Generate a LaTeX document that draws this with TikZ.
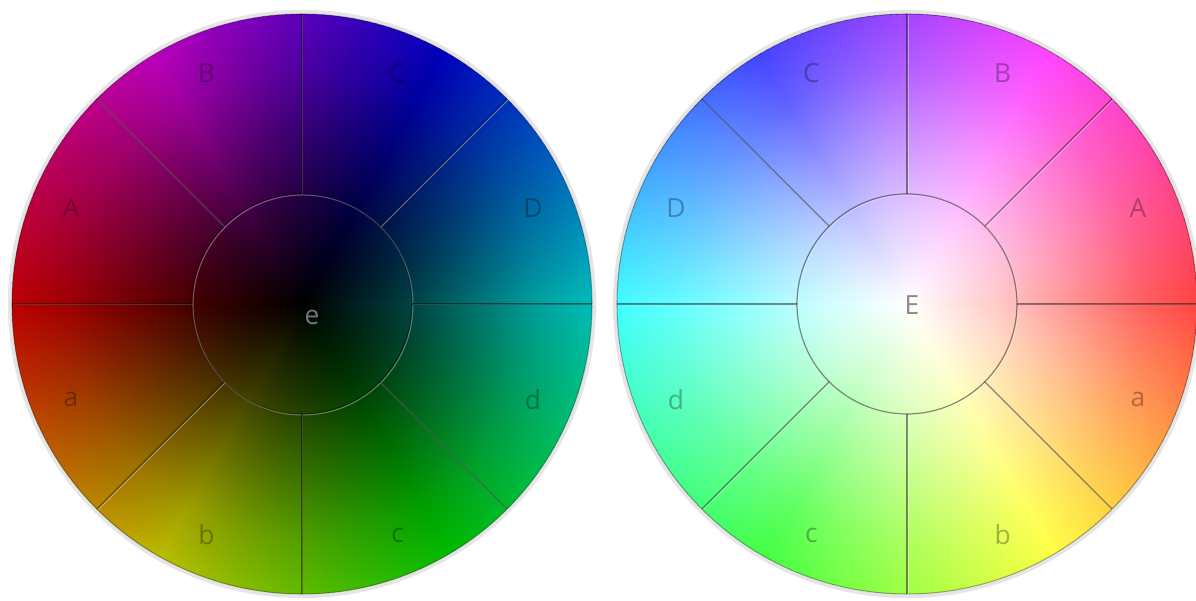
\documentclass[tikz,border=0pt]{standalone}
\usepackage{fontspec}
\setmainfont{Open Sans}
\usetikzlibrary{calc,fadings}

% radial fade: opaque at the hub, clear well before the rim
\pgfdeclareradialshading{hubshade}{\pgfpointorigin}{color(0bp)=(pgftransparent!0); color(8bp)=(pgftransparent!22); color(20bp)=(pgftransparent!62); color(36bp)=(pgftransparent!100); color(50bp)=(pgftransparent!100)}
\pgfdeclarefading{hubfade}{\pgfuseshading{hubshade}}

\tikzset{
  wheel/halo/.style={draw=black, draw opacity=0.1, line width=2.4pt},
  wheel/rim/.style={draw=black, draw opacity=0.3, line width=0.6pt},
  wheel/groove/.style={draw=black, draw opacity=0.45, line width=0.7pt},
  wheel/glint/.style={draw=white, draw opacity=0.35, line width=0.7pt},
  wheel/label/.style={font=\fontsize{15}{15}\selectfont, text=black, text opacity=0.3, inner sep=0pt},
  wheel/hublabel/.style={wheel/label, text opacity=0.45}
}

\begin{document}
\begin{tikzpicture}
\useasboundingbox (0,0) rectangle (23.92,12.02);
\def\wheelR{5.8}
\def\hubR{2.2}

\coordinate (lhub) at (6.04,5.94);
\coordinate (rhub) at (18.14,5.94);

% --- left wheel: hues, dark towards the hub ---
\foreach \a in {0,1.5,...,358.5} {
  \pgfmathsetmacro{\h}{mod(\a+180,360)}
  \definecolor{wedge}{Hsb}{\h,1,1}
  \fill[wedge] (lhub) -- ++(\a:\wheelR) arc[start angle=\a, end angle=\a+2, radius=\wheelR] -- cycle;
}
\fill[black, path fading=hubfade] (lhub) circle[radius=\wheelR];

% --- right wheel: mirrored hues, light towards the hub ---
\foreach \a in {0,1.5,...,358.5} {
  \pgfmathsetmacro{\h}{mod(360-\a,360)}
  \definecolor{wedge}{Hsb}{\h,1,1}
  \fill[wedge] (rhub) -- ++(\a:\wheelR) arc[start angle=\a, end angle=\a+2, radius=\wheelR] -- cycle;
}
\fill[white, path fading=hubfade] (rhub) circle[radius=\wheelR];

% --- rims ---
\draw[wheel/halo] (lhub) circle[radius=\wheelR+0.04];
\draw[wheel/rim] (lhub) circle[radius=\wheelR];
\draw[wheel/halo] (rhub) circle[radius=\wheelR+0.04];
\draw[wheel/rim] (rhub) circle[radius=\wheelR];

% --- grooves: hub circle and eight spokes ---
\begin{scope}[transform canvas={shift={(0.5pt,-0.5pt)}}]
  \draw[wheel/glint] (lhub) circle[radius=\hubR];
  \draw[wheel/glint] (rhub) circle[radius=\hubR];
  \foreach \a in {0,45,...,315} {
    \draw[wheel/glint] (lhub) ++(\a:\hubR) -- ++(\a:\wheelR-\hubR);
    \draw[wheel/glint] (rhub) ++(\a:\hubR) -- ++(\a:\wheelR-\hubR);
  }
\end{scope}
\draw[wheel/groove] (lhub) circle[radius=\hubR];
\draw[wheel/groove] (rhub) circle[radius=\hubR];
\foreach \a in {0,45,...,315} {
  \draw[wheel/groove] (lhub) ++(\a:\hubR) -- ++(\a:\wheelR-\hubR);
  \draw[wheel/groove] (rhub) ++(\a:\hubR) -- ++(\a:\wheelR-\hubR);
}

% --- left labels ---
\node[wheel/label] (lD) at ($(lhub)+(22.5:5)$) {D};
\node[wheel/label] (lC) at ($(lhub)+(67.5:5)$) {C};
\node[wheel/label] (lB) at ($(lhub)+(112.5:5)$) {B};
\node[wheel/label] (lA) at ($(lhub)+(157.5:5)$) {A};
\node[wheel/label] (la) at ($(lhub)+(202.5:5)$) {a};
\node[wheel/label] (lb) at ($(lhub)+(247.5:5)$) {b};
\node[wheel/label] (lc) at ($(lhub)+(292.5:5)$) {c};
\node[wheel/label] (ld) at ($(lhub)+(337.5:5)$) {d};
\node[wheel/hublabel, text=white] (le) at ($(lhub)+(0.2,-0.26)$) {e};

% --- right labels ---
\node[wheel/label] (rA) at ($(rhub)+(22.5:5)$) {A};
\node[wheel/label] (rB) at ($(rhub)+(67.5:5)$) {B};
\node[wheel/label] (rC) at ($(rhub)+(112.5:5)$) {C};
\node[wheel/label] (rD) at ($(rhub)+(157.5:5)$) {D};
\node[wheel/label] (rd) at ($(rhub)+(202.5:5)$) {d};
\node[wheel/label] (rc) at ($(rhub)+(247.5:5)$) {c};
\node[wheel/label] (rb) at ($(rhub)+(292.5:5)$) {b};
\node[wheel/label] (ra) at ($(rhub)+(337.5:5)$) {a};
\node[wheel/hublabel] (rE) at ($(rhub)+(0.1,-0.02)$) {E};

\end{tikzpicture}
\end{document}
